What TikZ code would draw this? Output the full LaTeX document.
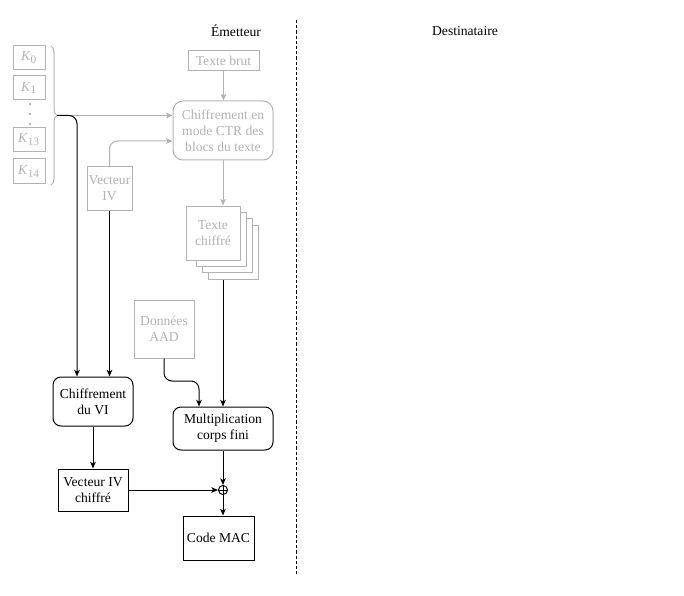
\documentclass[tikz,border=0pt]{standalone}
\usepackage{fontspec}
\setmainfont{Liberation Serif}
\usetikzlibrary{arrows.meta,calc,decorations.pathreplacing}
\definecolor{lite}{gray}{0.70}
\tikzset{
  sz/.style 2 args={minimum width=#1*0.75pt, minimum height=#2*0.75pt},
  base/.style={font=\fontsize{10.2}{12}\selectfont, align=center, inner sep=0pt, line width=0.75pt},
  gbox/.style={base, draw=lite, text=lite},
  bbox/.style={base, draw=black, text=black},
  rnd/.style={rounded corners=6pt},
  tip/.style={-{Stealth[length=5pt,width=4.2pt,inset=1.3pt]}},
  gline/.style={draw=lite, line width=0.75pt},
  bline/.style={draw=black, line width=0.75pt},
  kdot/.style={fill=lite, inner sep=0pt, minimum size=1.2pt},
}
\newcommand{\keyname}[1]{\textit{K}\textsubscript{\fontsize{8.5}{9}\selectfont #1}}
\begin{document}
\begin{tikzpicture}[x=0.75pt,y=-0.75pt]
\useasboundingbox (0,0) rectangle (684,595);
% titles
\node[base] (em) at (236,31) {Émetteur};
\node[base] (de) at (465,31) {Destinataire};
\coordinate (dtop) at (296,20);
\coordinate (dbot) at (296,575);
\draw[line width=0.75pt, dash pattern=on 2.4pt off 1.5pt] (dtop) -- (dbot);
% keys
\node[gbox, sz={32}{24}] (k0) at (29,58) {\keyname{0}};
\node[gbox, sz={32}{24}] (k1) at (29,88) {\keyname{1}};
\node[kdot] (kd1) at (30,104.3) {};
\node[kdot] (kd2) at (30,114) {};
\node[kdot] (kd3) at (30,124.3) {};
\node[gbox, sz={32}{24}] (k13) at (29,140) {\keyname{13}};
\node[gbox, sz={32}{25}] (k14) at (29,171.5) {\keyname{14}};
\coordinate (bra) at (51,46);
\coordinate (brb) at (51,185);
\draw[gline, decorate, decoration={brace, amplitude=4.5pt}] (bra) -- (brb);
\coordinate (bt) at (57,115.5);
% sender boxes
\node[gbox, sz={71}{20}] (tb) at (223.5,61) {Texte brut};
\node[gbox, sz={100}{59}, rounded corners=7.5pt] (ctr) at (223,130.5) {Chiffrement en\\mode CTR des\\blocs du texte};
\node[gbox, sz={45}{43}] (iv) at (109.5,188.5) {Vecteur\\IV};
% stack of ciphertext
\node[gbox, fill=white, sz={50}{54}] (c3) at (233,252) {};
\node[gbox, fill=white, sz={50}{54}] (c2) at (227,245.7) {};
\node[gbox, fill=white, sz={50}{54}] (c1) at (221,239) {};
\node[gbox, fill=white, sz={54}{54}] (tc) at (213,233) {Texte\\chiffré};
\node[gbox, sz={60}{58}] (aad) at (164,329) {Données\\AAD};
\node[bbox, sz={80}{49}, rnd] (chvi) at (93,401.5) {Chiffrement\\du VI};
\node[bbox, sz={100}{43}, rnd] (mult) at (223,428.5) {Multiplication\\corps fini};
\node[bbox, sz={70}{42}] (vivc) at (93,490) {Vecteur IV\\chiffré};
\node[draw, circle, inner sep=0pt, minimum size=6.8pt, line width=0.75pt] (xor) at (223,490) {};
\draw[line width=0.6pt] (xor.north) -- (xor.south) (xor.west) -- (xor.east);
\node[bbox, sz={71}{44}] (mac) at (218.5,538) {Code MAC};
% gray connectors
\draw[gline, tip] (bt) -- (bt -| ctr.west);
\draw[gline, tip, rounded corners=6pt] (iv.north) |- ($(ctr.west)+(0,10.5)$);
\draw[gline, tip] (tb.south) -- (tb.south |- ctr.north);
\draw[gline, tip] (ctr.south) -- (ctr.south |- tc.north);
% black connectors
\draw[bline, tip, rounded corners=6pt] (bt) -| ($(chvi.north)+(-16,0)$);
\draw[bline, tip] (iv.south) -- (iv.south |- chvi.north);
\draw[bline, tip] (c3.south -| mult.north) -- (mult.north);
\coordinate (aadm) at (164,381);
\draw[bline, tip, rounded corners=6pt] (aad.south) -- (aadm) -| ($(mult.north)+(-24,0)$);
\draw[bline, tip] (chvi.south) -- (vivc.north);
\draw[bline, tip] (vivc.east) -- (xor.west);
\draw[bline, tip] (mult.south) -- (xor.north);
\draw[bline, tip] (xor.south) -- (xor.south |- mac.north);
\end{tikzpicture}
\end{document}
